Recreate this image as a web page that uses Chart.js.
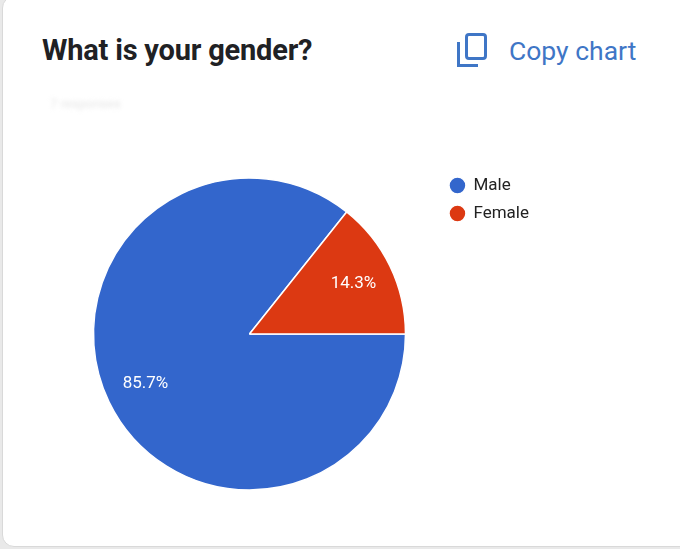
<!DOCTYPE html>
<html>
<head>
<meta charset="utf-8">
<script src="https://cdn.jsdelivr.net/npm/chart.js@4"></script>
<style>
  html, body { margin: 0; padding: 0; }
  body { width: 680px; height: 549px; overflow: hidden; background: #e9e9e9; font-family: Roboto, 'Noto Sans', sans-serif; position: relative; }
  .card { position: absolute; left: 2px; top: -4px; width: 700px; height: 549px; background: #fff; border: 1px solid #d9d9d9; border-radius: 12px; }
  .title { position: absolute; left: 42px; top: 33px; font-size: 29px; font-weight: 700; color: #202124; letter-spacing: -0.2px; }
  .copy { position: absolute; left: 457px; top: 33px; height: 34px; display: flex; align-items: center; color: #3f76c6; font-size: 26.5px; }
  .copy svg { margin-right: 21px; }
  .responses { position: absolute; left: 50px; top: 96px; font-size: 13px; color: #e6e6e6; filter: blur(2px); }
  .chart-box { position: absolute; left: 60px; top: 166px; width: 479px; height: 336px; }
</style>
</head>
<body>
<div class="card"></div>
<div class="title">What is your gender?</div>
<div class="copy">
  <svg width="31" height="34" viewBox="0 0 31 34">
    <rect x="9.5" y="1.5" width="19" height="24" rx="2.5" fill="none" stroke="#3f76c6" stroke-width="3"/>
    <path d="M1.5 9 V32.5 H21" fill="none" stroke="#3f76c6" stroke-width="3"/>
  </svg>
  <span>Copy chart</span>
</div>
<div class="responses">7 responses</div>
<div class="chart-box"><canvas id="pie"></canvas></div>
<script>
// values
const labels = ['Male', 'Female'];
const shares = [85.7, 14.3];
const colors = ['#3366cc', '#dc3912'];

// draws the percentage inside each slice, like Google Forms does
const sliceLabels = {
    id: 'sliceLabels',
    afterDatasetsDraw(chart) {
        const { ctx } = chart;
        const meta = chart.getDatasetMeta(0);
        ctx.save();
        ctx.fillStyle = '#ffffff';
        ctx.font = "17px Roboto, 'Noto Sans', sans-serif";
        ctx.textAlign = 'center';
        ctx.textBaseline = 'middle';
        meta.data.forEach((arc, i) => {
            const p = arc.getProps(['x', 'y', 'startAngle', 'endAngle', 'outerRadius'], true);
            const mid = (p.startAngle + p.endAngle) / 2;
            const r = p.outerRadius * 0.74;
            ctx.fillText(shares[i].toFixed(1) + '%', p.x + Math.cos(mid) * r, p.y + Math.sin(mid) * r);
        });
        ctx.restore();
    },
};

new Chart(document.getElementById('pie'), {
    type: 'pie',
    data: {
        labels,
        datasets: [
            {
                data: shares,
                backgroundColor: colors,
                borderColor: '#ffffff',
                borderWidth: 1.5,
                radius: 156,
            },
        ],
    },
    options: {
        responsive: true,
        maintainAspectRatio: false,
        animation: false,
        rotation: 90,
        layout: { padding: 0 },
        plugins: {
            legend: {
                position: 'right',
                align: 'start',
                labels: {
                    usePointStyle: true,
                    pointStyle: 'circle',
                    boxWidth: 15,
                    boxHeight: 12,
                    padding: 11,
                    color: '#222222',
                    font: { size: 17, family: "Roboto, 'Noto Sans', sans-serif" },
                },
            },
            tooltip: { enabled: false },
        },
    },
    plugins: [sliceLabels],
});
</script>
</body>
</html>
